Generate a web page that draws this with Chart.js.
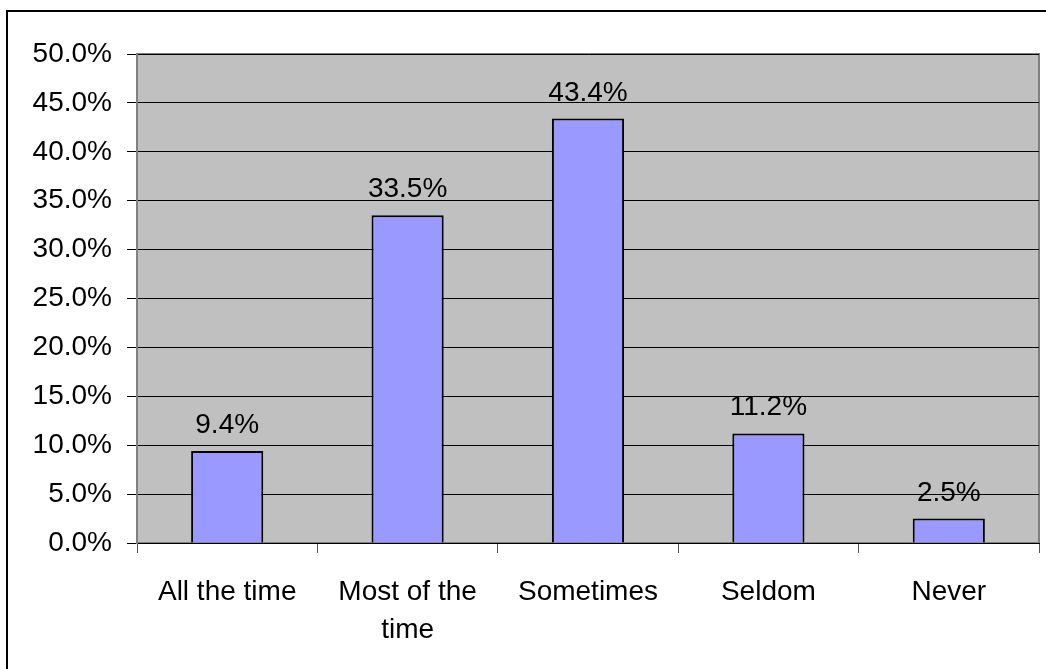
<!DOCTYPE html>
<html>
<head>
<meta charset="utf-8">
<script src="https://cdn.jsdelivr.net/npm/chart.js"></script>
<style>
  html, body { margin: 0; padding: 0; background: #fff; }
  canvas { display: block; }
</style>
</head>
<body>
<canvas id="chart" width="1046" height="669"></canvas>
<script>
// frequency answers, share of respondents in percent
const categories = ['All the time', ['Most of the', 'time'], 'Sometimes', 'Seldom', 'Never'];
const shares = [9.4, 33.5, 43.4, 11.2, 2.5];
const yTicks = [0, 5, 10, 15, 20, 25, 30, 35, 40, 45, 50];

const FONT = '"Liberation Sans", Arial, sans-serif';

// grey plot area plus the frame around the whole chart
const frame = {
  id: 'frame',
  beforeDraw(chart) {
    const { ctx, chartArea: a } = chart;
    ctx.save();
    ctx.fillStyle = '#fff';
    ctx.fillRect(0, 0, chart.width, chart.height);
    ctx.strokeStyle = '#000';
    ctx.lineWidth = 2;
    ctx.strokeRect(7, 11, 2000, 2000);
    ctx.fillStyle = '#c0c0c0';
    ctx.fillRect(a.left, a.top, a.right - a.left, a.bottom - a.top);
    ctx.strokeStyle = '#808080';
    ctx.lineWidth = 2;
    ctx.strokeRect(a.left, a.top, a.right - a.left, a.bottom - a.top);
    ctx.restore();
  }
};

// value printed above each bar
const barLabels = {
  id: 'barLabels',
  afterDatasetsDraw(chart) {
    const { ctx } = chart;
    const meta = chart.getDatasetMeta(0);
    ctx.save();
    ctx.font = '28px ' + FONT;
    ctx.fillStyle = '#000';
    ctx.textAlign = 'center';
    ctx.textBaseline = 'alphabetic';
    meta.data.forEach((bar, i) => {
      ctx.fillText(shares[i].toFixed(1) + '%', bar.x, bar.y - 18);
    });
    ctx.restore();
  }
};

new Chart(document.getElementById('chart'), {
  type: 'bar',
  data: {
    labels: categories,
    datasets: [{
      data: shares,
      backgroundColor: '#9999ff',
      borderColor: '#000',
      borderWidth: 2,
      barPercentage: 0.4,
      categoryPercentage: 1.0
    }]
  },
  options: {
    responsive: false,
    animation: false,
    devicePixelRatio: 1,
    layout: { padding: { top: 54, right: 7, left: 0, bottom: 0 } },
    plugins: {
      legend: { display: false },
      tooltip: { enabled: false }
    },
    scales: {
      x: {
        afterFit(scale) { scale.height = 126; },
        grid: {
          offset: true,
          drawOnChartArea: false,
          drawTicks: true,
          tickLength: 10,
          tickColor: '#555'
        },
        border: { color: '#000', width: 1 },
        ticks: {
          color: '#000',
          padding: 20,
          font: { family: FONT, size: 28, lineHeight: 1.36 },
          maxRotation: 0,
          autoSkip: false
        }
      },
      y: {
        min: 0,
        max: 50,
        afterFit(scale) { scale.width = 137; },
        afterBuildTicks(scale) { scale.ticks = yTicks.map(v => ({ value: v })); },
        grid: {
          color: '#000',
          lineWidth: 1,
          drawTicks: true,
          tickLength: 10,
          tickColor: '#000'
        },
        border: { color: '#808080', width: 2 },
        ticks: {
          color: '#000',
          padding: 15,
          font: { family: FONT, size: 28 },
          callback: v => v.toFixed(1) + '%'
        }
      }
    }
  },
  plugins: [frame, barLabels]
});
</script>
</body>
</html>
